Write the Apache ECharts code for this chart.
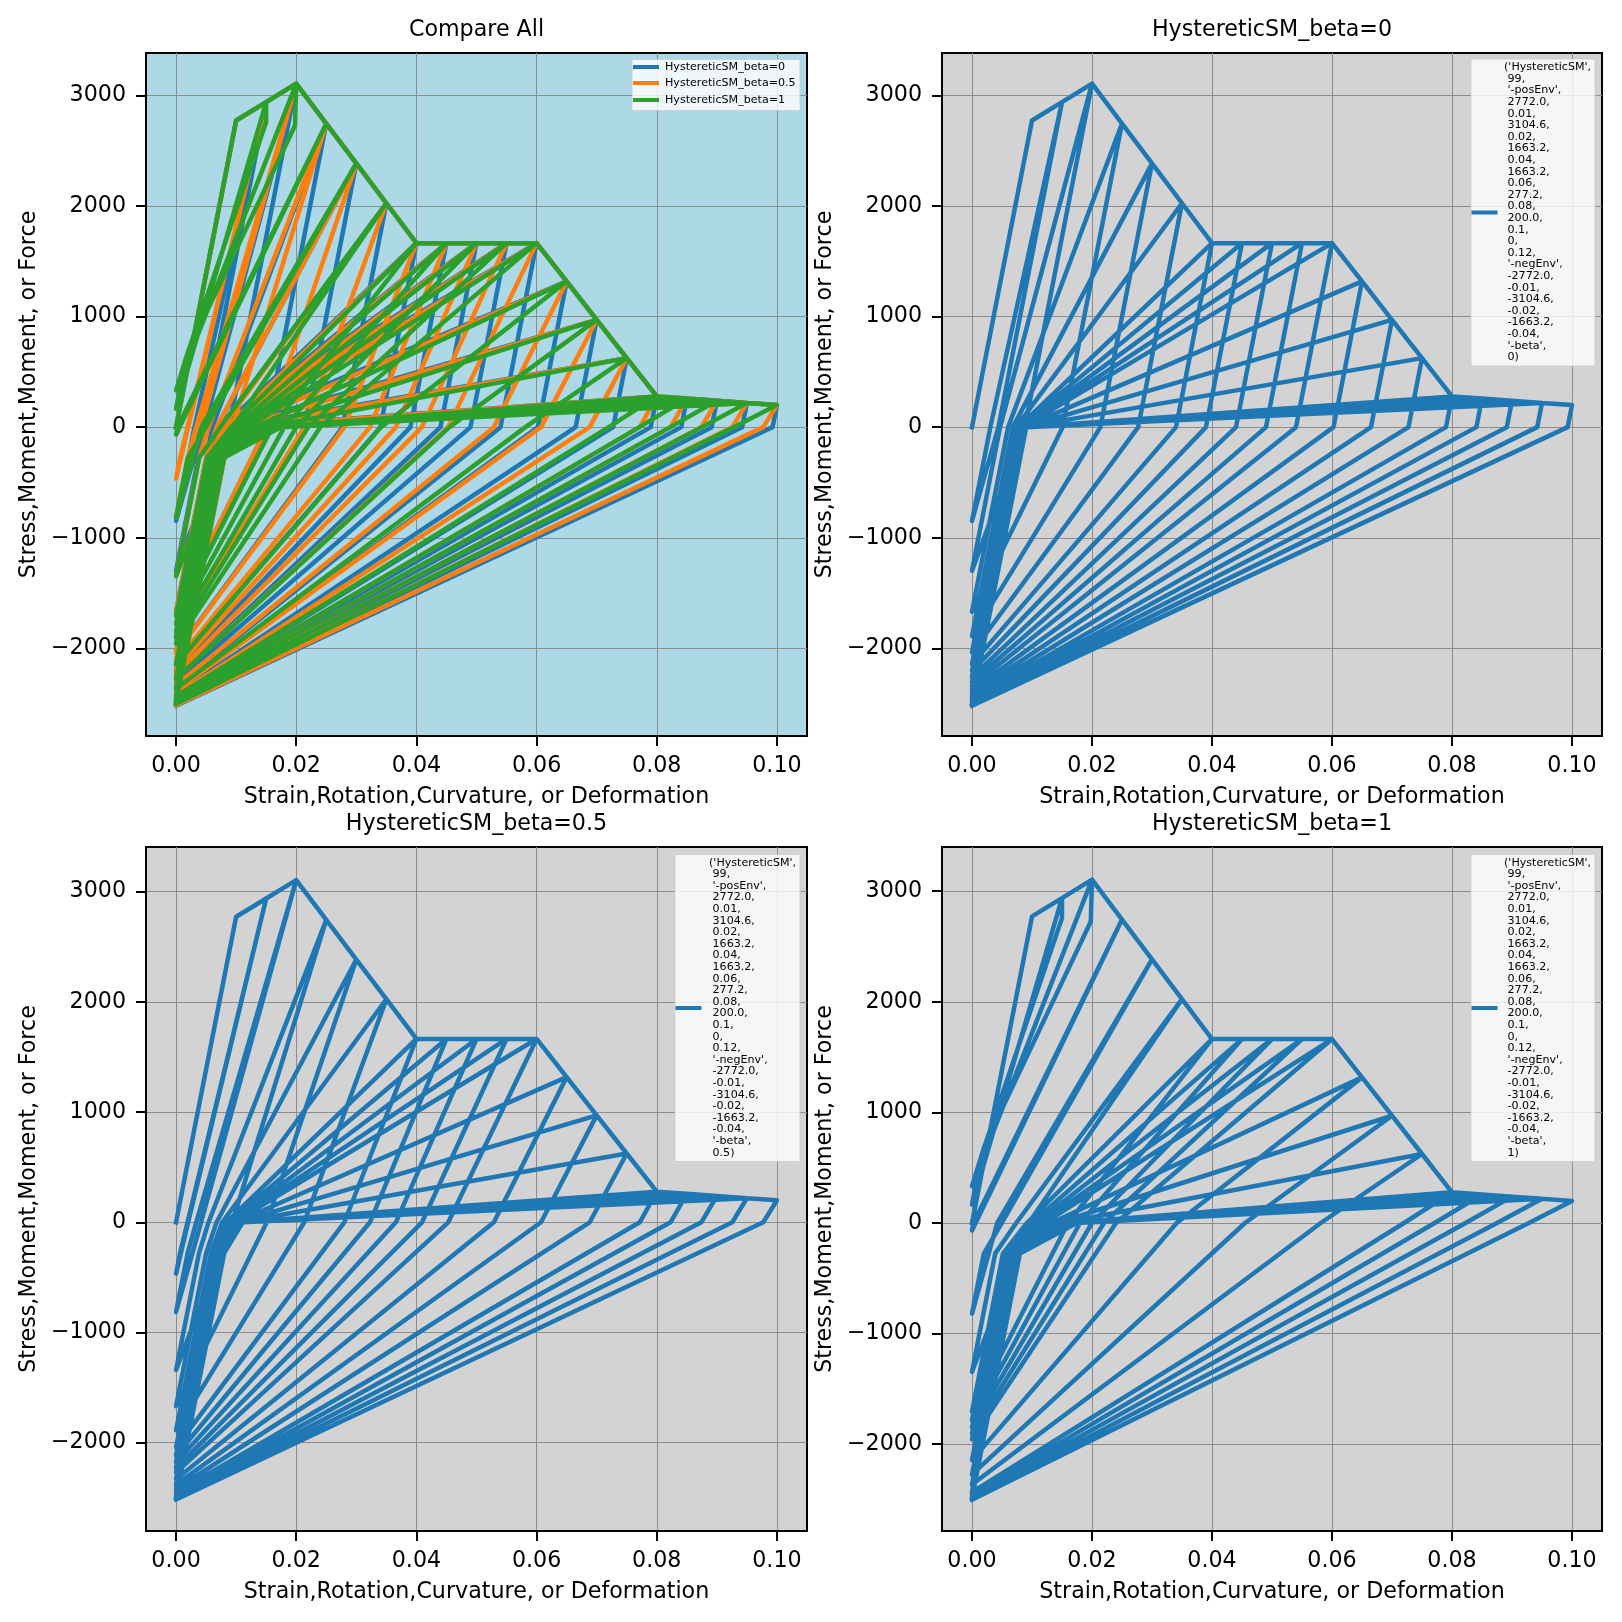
<!DOCTYPE html>
<html>
<head>
<meta charset="utf-8">
<style>html,body{margin:0;padding:0;background:#fff}#c{width:1622px;height:1622px}</style>
<script src="https://cdn.jsdelivr.net/npm/echarts@6/dist/echarts.min.js"></script>
</head>
<body>
<div id="c"></div>
<script>
// ---- values ----
const xTicks = [0, 0.02, 0.04, 0.06, 0.08, 0.1];
const yTicks = [-2000, -1000, 0, 1000, 2000, 3000];
const seriesNames = ['HystereticSM_beta=0', 'HystereticSM_beta=0.5', 'HystereticSM_beta=1'];
const panelTitles = ['Compare All', 'HystereticSM_beta=0', 'HystereticSM_beta=0.5', 'HystereticSM_beta=1'];
const xName = 'Strain,Rotation,Curvature, or Deformation';
const yName = 'Stress,Moment,Moment, or Force';

const peakStrain = [0.01,0.015,0.02,0.025,0.03,0.035,0.04,0.045,0.05,0.055,0.06,0.065,0.07,0.075,0.08,0.085,0.09,0.095,0.1];
const peakStress = [2772,2938,3104.6,2744,2384,2023.9,1663.2,1663.2,1663.2,1663.2,1663.2,1317,970,624,277.2,258,238.6,219,200];

// beta = 0
const beta0Start = [[0,0],[0.01,2772],[0,0],[0.01,2772]];
const beta0Zero = [0.0044,0.0088,0.0151,0.0214,0.0277,0.034,0.039,0.044,0.049,0.054,0.06025,0.0665,0.07275,0.079,0.08407,0.08914,0.09421,0.09928];
const beta0Return = [-847,-1297.5,-1668,-1889,-2037,-2142,-2206,-2259,-2302,-2339,-2377,-2410,-2437,-2461,-2477,-2492,-2506,-2518];
const beta0KneeStrain = [0.00306,0.00468,0.00602,0.00681,0.00735,0.00773,0.00796,0.00815,0.0083,0.00844,0.00858,0.00869,0.00879,0.00888,0.00894,0.00899,0.00904];
const beta0KneeStress = [0,0,0,0,0,0,0,0,0,0,0,0,0,0,0,0,0];
const beta0Pinch = [0.00306,0.00468,0.00602,0.00681,0.00735,0.00773,0.00796,0.00815,0.0083,0.00844,0.00858,0.00869,0.00879,0.00888,0.00894,0.00899,0.00904];

// beta = 0.5
const beta5Start = [[0,0],[0.01,2772],[0,0],[0.01,2772]];
const beta5Zero = [0.00202,0.00416,0.00935,0.0151,0.02134,0.028,0.03227,0.03658,0.04093,0.0453,0.05289,0.06074,0.06884,0.07717,0.08229,0.08742,0.09257,0.09772];
const beta5Return = [-466,-814,-1339,-1668,-1888,-2043,-2116,-2177,-2228,-2271,-2331,-2380,-2420,-2454,-2472,-2487,-2502,-2515];
const beta5KneeStrain = [0.00068,0.00194,0.00383,0.00502,0.00581,0.00637,0.00663,0.00685,0.00704,0.00719,0.00741,0.00759,0.00773,0.00785,0.00792,0.00797,0.00803];
const beta5KneeStress = [-277,-277,-277,-277,-277,-277,-277,-277,-277,-277,-277,-277,-277,-277,-277,-277,-277];
const beta5Pinch = [0.0019,0.00335,0.00541,0.00675,0.00768,0.00837,0.00875,0.00909,0.00939,0.00964,0.00996,0.01024,0.01047,0.01068,0.01084,0.01097,0.01111];

// beta = 1
const beta1Start = [[0,0],[0.01,2772],[0,0],[0.01,2772],[0.015,2938],[0,166],[0.0015,600],[0.015,2757],[0.015,2938],[0.02,3104.6],[0,332.6],[0.0021,700],[0.0198,2727],[0.02,3104.6]];
const beta1Zero = [0.00025,0.0042,0.00945,0.016,0.018,0.02,0.022,0.024,0.03412,0.0455,0.05812,0.072,0.0771,0.08226,0.0875,0.0928];
const beta1Return = [-68,-820,-1347,-1706,-1782,-1848,-1906,-1957,-2144,-2273,-2365,-2434,-2454,-2472,-2488,-2502];
const beta1KneeStrain = [0.0001,0.00196,0.00386,0.00515,0.00543,0.00567,0.00588,0.00606,0.00673,0.0072,0.00753,0.00778,0.00785,0.00792,0.00798];
const beta1KneeStress = [-60,-277,-277,-277,-277,-277,-277,-277,-277,-277,-277,-277,-277,-277,-277];
const beta1Pinch = [0.0006,0.00496,0.00736,0.00915,0.00993,0.01067,0.01138,0.01206,0.01323,0.0142,0.01503,0.01578,0.01635,0.01692,0.01748];

const legendLinesHead = ["('HystereticSM',"," 99,"," '-posEnv',"," 2772.0,"," 0.01,"," 3104.6,"," 0.02,"," 1663.2,"," 0.04,"," 1663.2,"," 0.06,"," 277.2,"," 0.08,"," 200.0,"," 0.1,"," 0,"," 0.12,"," '-negEnv',"," -2772.0,"," -0.01,"," -3104.6,"," -0.02,"," -1663.2,"," -0.04,"," '-beta',"];
const legendLastLines = [" 0)", " 0.5)", " 1)"];

// ---- build polylines from the tables ----
function path(start, zero, ret, kx, ky, pinch) {
  const pts = start.slice();
  const s = peakStrain.length - zero.length;
  zero.forEach((z, i) => {
    const j = s + i;
    pts.push([peakStrain[j], peakStress[j]], [z, 0], [0, ret[i]]);
    if (i < pinch.length) pts.push([kx[i], ky[i]], [pinch[i], 0], [peakStrain[j], peakStress[j]]);
  });
  return pts;
}
const paths = [
  path(beta0Start, beta0Zero, beta0Return, beta0KneeStrain, beta0KneeStress, beta0Pinch),
  path(beta5Start, beta5Zero, beta5Return, beta5KneeStrain, beta5KneeStress, beta5Pinch),
  path(beta1Start, beta1Zero, beta1Return, beta1KneeStrain, beta1KneeStress, beta1Pinch)
];

// ---- layout ----
const colors = ['#1f77b4', '#ff7f0e', '#2ca02c'];
const panels = [
  {l:146, t:53,  w:661, h:683, bg:'#add8e6', min:-2792, max:3382},
  {l:942, t:53,  w:660, h:683, bg:'#d3d3d3', min:-2792, max:3382},
  {l:146, t:847, w:661, h:684, bg:'#d3d3d3', min:-2801, max:3405},
  {l:942, t:847, w:660, h:684, bg:'#d3d3d3', min:-2785, max:3400}
];
const FONT = '"DejaVu Sans"';
const FS = 22.2;
const grids = [], xAxes = [], yAxes = [], series = [], titles = [], graphics = [];
panels.forEach((p, i) => {
  grids.push({left:p.l, top:p.t, width:p.w, height:p.h, show:true, backgroundColor:p.bg, borderColor:'#000', borderWidth:2});
  xAxes.push({
    gridIndex:i, type:'value', min:-0.005, max:0.105, splitNumber:5,
    name:xName, nameLocation:'middle', nameGap:50, nameTextStyle:{fontFamily:FONT, fontSize:FS, color:'#000'},
    axisLine:{onZero:false, lineStyle:{color:'#000', width:2}},
    axisTick:{show:true, length:10, lineStyle:{color:'#000', width:2}, customValues:xTicks},
    axisLabel:{customValues:xTicks, margin:19, fontFamily:FONT, fontSize:FS, color:'#000', formatter:v => v.toFixed(2)},
    splitLine:{show:true, lineStyle:{color:'#8c8c8c', width:1}}
  });
  yAxes.push({
    gridIndex:i, type:'value', min:p.min, max:p.max, splitNumber:6,
    name:yName, nameLocation:'middle', nameGap:106, nameTextStyle:{fontFamily:FONT, fontSize:FS, color:'#000'},
    axisLine:{onZero:false, lineStyle:{color:'#000', width:2}},
    axisTick:{show:true, length:10, lineStyle:{color:'#000', width:2}, customValues:yTicks},
    axisLabel:{customValues:yTicks, margin:20, fontFamily:FONT, fontSize:FS, color:'#000', formatter:v => String(Math.round(v)).replace('-', '\u2212')},
    splitLine:{show:true, lineStyle:{color:'#8c8c8c', width:1}}
  });
  titles.push({
    text:panelTitles[i], left:p.l + p.w/2, top:(i < 2 ? 30 : 824.5), padding:0, textAlign:'center', textVerticalAlign:'middle',
    textStyle:{fontFamily:FONT, fontSize:FS, fontWeight:'normal', color:'#000'}
  });
});
const lineSeries = (name, data, idx, color) => ({
  name, type:'line', xAxisIndex:idx, yAxisIndex:idx, data, showSymbol:false, symbol:'none', smooth:false,
  sampling:false, animation:false, clip:true, z:3, silent:true,
  lineStyle:{color, width:4.5, cap:'square', join:'round'}
});
paths.forEach((d, k) => series.push(lineSeries(seriesNames[k], d, 0, colors[k])));
paths.forEach((d, k) => series.push(lineSeries(seriesNames[k], d, k + 1, colors[0])));

// legends
const box = (x, y, w, h) => ({type:'rect', shape:{x, y, width:w, height:h, r:1}, z:20,
  style:{fill:'rgba(255,255,255,0.8)', stroke:'rgba(204,204,204,0.8)', lineWidth:1}});
const handle = (x, y, c) => ({type:'line', shape:{x1:x, y1:y, x2:x + 26, y2:y}, z:21, style:{stroke:c, lineWidth:4}});
graphics.push(box(632, 59.5, 168, 51));
seriesNames.forEach((n, k) => {
  const y = [67, 83, 100][k];
  graphics.push(handle(633, y, colors[k]));
  graphics.push({type:'text', x:665, y, z:21, style:{text:n, font:'11.1px ' + FONT, fill:'#000', verticalAlign:'middle', align:'left'}});
});
[[1471, 59, 124, 307, 1504, 67.3], [675, 854.5, 125, 307, 709, 862.7], [1471, 854.5, 124, 307, 1504, 862.7]].forEach((b, k) => {
  graphics.push(box(b[0], b[1], b[2], b[3]));
  graphics.push(handle(b[0] + 0.5, b[1] + 153.5, colors[0]));
  graphics.push({type:'text', x:b[4], y:b[5] - 5.8, z:21, style:{
    text:legendLinesHead.concat([legendLastLines[k]]).join('\n'),
    font:'11.1px ' + FONT, fill:'#000', lineHeight:11.6, verticalAlign:'top', align:'left'}});
});

const chart = echarts.init(document.getElementById('c'), null, {renderer:'canvas', width:1622, height:1622});
chart.setOption({
  animation:false, backgroundColor:'#fff',
  title:titles, grid:grids, xAxis:xAxes, yAxis:yAxes, series, graphic:graphics
});
</script>
</body>
</html>
